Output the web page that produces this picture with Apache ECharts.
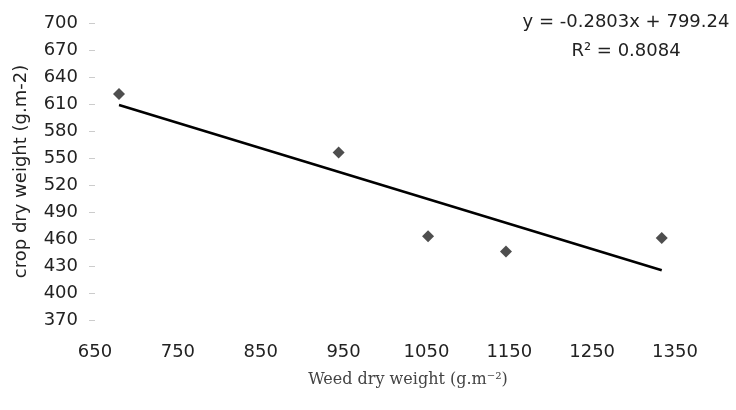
<!DOCTYPE html>
<html>
<head>
<meta charset="utf-8">
<title>Crop vs weed dry weight</title>
<script src="https://cdn.jsdelivr.net/npm/echarts@6/dist/echarts.min.js"></script>
<style>
  body { margin: 0; background: #fff; }
  #weed_chart { width: 736px; height: 410px; }
</style>
</head>
<body>
<div id="weed_chart"></div>
<script>
// weed dry weight (g.m-2)
const weed_dry_weight = [679, 944, 1052, 1146, 1334]
// crop dry weight (g.m-2)
const crop_dry_weight = [621, 556, 463, 446, 461]
// fitted trendline from the chart: y = -0.2803x + 799.24
const slope = -0.2803
const intercept = 799.24
const r_squared = 0.8084

const points = weed_dry_weight.map(function(x, i) {
  return [x, crop_dry_weight[i]]
})
const x_lo = Math.min.apply(null, weed_dry_weight)
const x_hi = Math.max.apply(null, weed_dry_weight)
const trend = [
  [x_lo, slope * x_lo + intercept],
  [x_hi, slope * x_hi + intercept]
]

const myChart = echarts.init(document.getElementById('weed_chart'))
const option = {
  animation: false,
  grid: {
    left: 95,
    right: 61,
    top: 23,
    bottom: 90
  },
  xAxis: {
    type: 'value',
    min: 650,
    max: 1350,
    interval: 100,
    name: 'Weed dry weight (g.m\u207B\u00B2)',
    nameLocation: 'middle',
    nameGap: 52,
    nameTextStyle: {
      fontFamily: 'DejaVu Serif',
      fontSize: 16,
      color: '#444',
      padding: [0, 0, 0, 46]
    },
    axisLine: { show: false },
    axisTick: { show: false },
    splitLine: { show: false },
    axisLabel: {
      margin: 23,
      fontFamily: 'DejaVu Sans',
      fontSize: 18,
      color: '#222',
      formatter: function(v) { return String(v) }
    }
  },
  yAxis: {
    type: 'value',
    min: 370,
    max: 700,
    interval: 30,
    name: 'crop dry weight (g.m-2)',
    nameLocation: 'middle',
    nameGap: 65,
    nameTextStyle: {
      fontFamily: 'DejaVu Sans',
      fontSize: 18,
      color: '#222'
    },
    axisLine: { show: false },
    axisTick: {
      show: true,
      length: 6,
      lineStyle: { color: '#ccc' }
    },
    splitLine: { show: false },
    axisLabel: {
      margin: 17,
      fontFamily: 'DejaVu Sans',
      fontSize: 18,
      color: '#222'
    }
  },
  graphic: [{
    type: 'text',
    x: 626,
    y: 37,
    style: {
      text: 'y = ' + slope + 'x + ' + intercept + '\nR\u00B2 = ' + r_squared,
      align: 'center',
      verticalAlign: 'middle',
      lineHeight: 29,
      font: '18px "DejaVu Sans"',
      fill: '#222'
    }
  }],
  series: [{
    type: 'scatter',
    data: points,
    symbol: 'diamond',
    symbolSize: 12,
    itemStyle: { color: '#222' }
  }, {
    type: 'line',
    data: trend,
    symbol: 'none',
    lineStyle: { color: '#000', width: 2.5 }
  }]
}
myChart.setOption(option)
</script>
</body>
</html>
